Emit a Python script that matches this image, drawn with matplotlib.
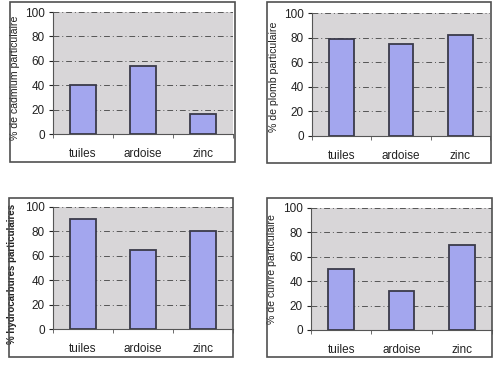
import numpy as np
import matplotlib.pyplot as plt
from matplotlib.patches import Rectangle

plt.rcParams['font.family'] = ['Liberation Sans', 'DejaVu Sans']

categories = ['tuiles', 'ardoise', 'zinc']
cadmium = [40, 56, 16]
plomb = [79, 75, 82]
hydrocarbures = [90, 65, 80]
cuivre = [50, 32, 70]
ylabels = ['% de cadmium particulaire', '% de plomb particulaire',
           '% hydrocarbures particulaires', '% de cuivre particulaire']

W, H = 501, 365
fig = plt.figure(figsize=(W / 100, H / 100), dpi=100)

def frac(l, t, r, b):
    return [l / W, 1 - b / H, (r - l) / W, (b - t) / H]

# frame box, plot area (left, top, right, bottom px), label centre (x, y px)
panels = [
    ((10, 2, 235, 162), (53, 12, 233, 134), (20, 78), cadmium, ylabels[0], False),
    ((267, 2, 491, 163), (312, 13, 490, 136), (279, 77), plomb, ylabels[1], False),
    ((9, 198, 233, 357), (53, 207, 233, 329), (17, 274), hydrocarbures, ylabels[2], True),
    ((267, 198, 492, 357), (311, 208, 492, 330), (277, 269), cuivre, ylabels[3], False),
]

x = np.arange(len(categories))
for box, area, lpos, vals, lab, bold in panels:
    fig.patches.append(Rectangle((box[0] / W, 1 - box[3] / H),
                                 (box[2] - box[0]) / W, (box[3] - box[1]) / H,
                                 transform=fig.transFigure, fill=False,
                                 edgecolor='#505050', linewidth=1.2))
    ax = fig.add_axes(frac(*area))
    ax.set_facecolor('#d8d6d8')
    ax.bar(x, vals, width=0.42, color='#a3a6ee', edgecolor='#3a3a4a',
           linewidth=1.3, zorder=3)
    ax.set_xlim(-0.5, 2.5)
    ax.set_ylim(0, 100)
    ax.set_yticks(range(0, 101, 20))
    ax.yaxis.grid(True, color='#555555', linestyle=(0, (6, 3, 1, 3)),
                  linewidth=0.7, zorder=1)
    ax.set_xticks(x)
    ax.set_xticklabels(categories)
    ax.set_xticks([-0.5, 0.5, 1.5, 2.5], minor=True)
    ax.tick_params(axis='x', which='major', length=0, pad=10, labelsize=8.5,
                   colors='#222222')
    ax.tick_params(axis='x', which='minor', length=3, color='#555555')
    ax.tick_params(axis='y', length=3, labelsize=8.5, colors='#222222',
                   pad=3)
    for s in ['top', 'right']:
        ax.spines[s].set_visible(False)
    ax.spines['left'].set_color('#555555')
    ax.spines['bottom'].set_color('#555555')
    ax.set_ylabel(lab, fontsize=7 if bold else 7.6,
                  fontweight='bold' if bold else 'normal', color='#222222')
    ax.yaxis.set_label_coords((lpos[0] - area[0]) / (area[2] - area[0]),
                              (area[3] - lpos[1]) / (area[3] - area[1]))

fig.savefig('out.png', dpi=100)
